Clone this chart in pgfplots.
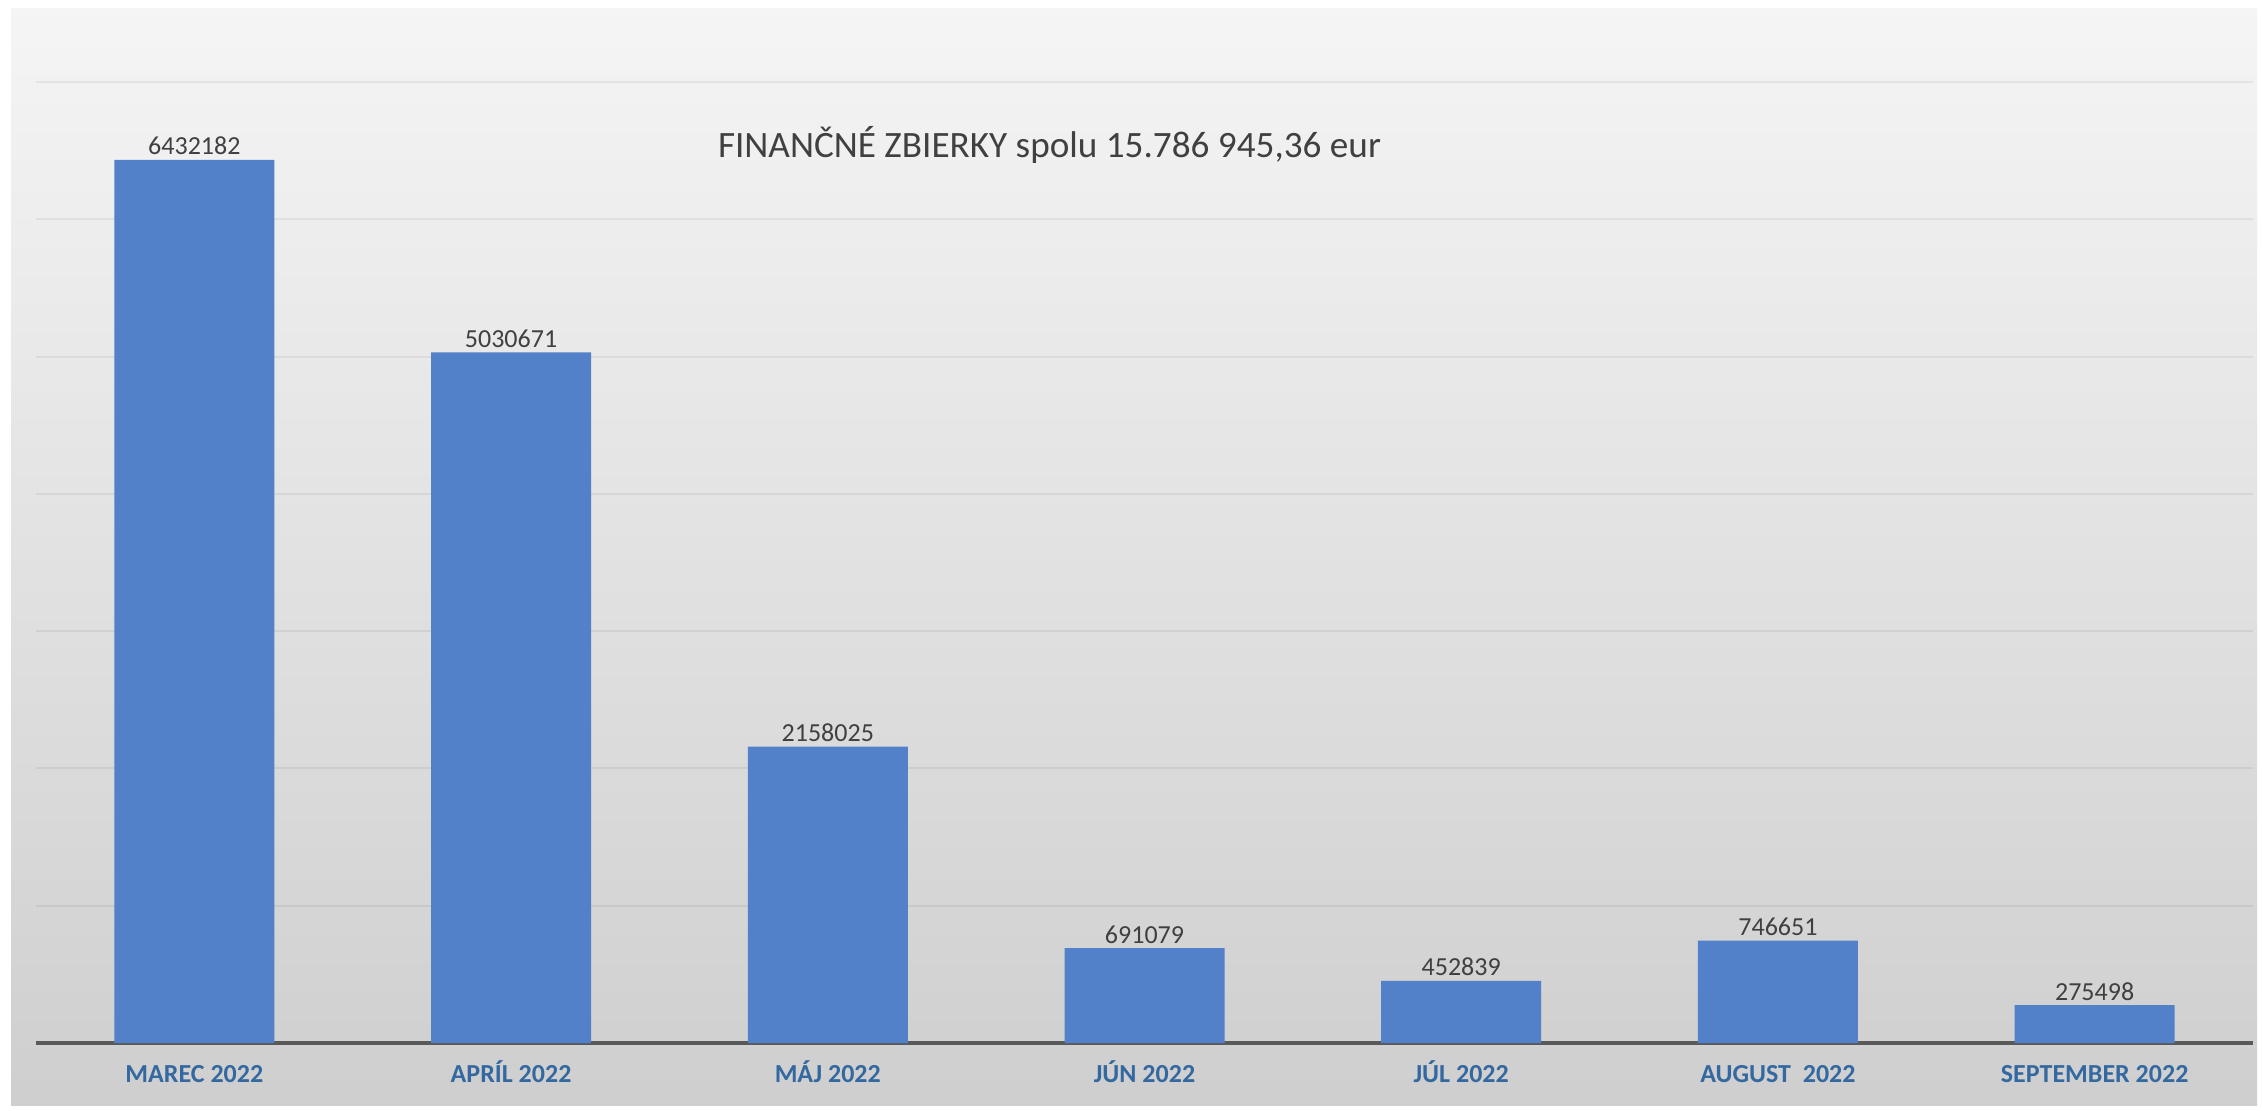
\documentclass[border=0pt]{standalone}
\usepackage{pgfplots}
\pgfplotsset{compat=1.18}
\usepackage{pgfplotstable}
\usepackage{fontspec}
\setmainfont{Carlito}

\definecolor{barblue}{RGB}{83,129,201}
\definecolor{ticklab}{RGB}{52,104,160}
\definecolor{txtgray}{RGB}{64,64,64}

\pgfplotstableread{
x y lab
0 6432182 6432182
1 5030671 5030671
2 2158025 2158025
3 691079 691079
4 452839 452839
5 746651 746651
6 275498 275498
}\zbierky

\begin{document}
\begin{tikzpicture}[x=0.5pt,y=0.5pt]
  \useasboundingbox (0,0) rectangle (2262,1110);
  \fill[white] (0,0) rectangle (2262,1110);
  \shade[top color=black!4, bottom color=black!19] (11,5) rectangle (2257,1101);
  \begin{axis}[
    at={(18pt,33.5pt)}, anchor=south west,
    scale only axis,
    width=1108.5pt, height=480.5pt,
    xmin=-0.5, xmax=6.5,
    ymin=0, ymax=7000000,
    axis line style={draw=none},
    major tick length=0,
    xtick=data,
    xticklabels={MAREC 2022, APRÍL 2022, MÁJ 2022, JÚN 2022, JÚL 2022, AUGUST\ \ 2022, SEPTEMBER 2022},
    xticklabel style={anchor=base, yshift=-19.5pt, font=\fontsize{13}{15}\selectfont\bfseries, text=ticklab},
    ytick={1000000,2000000,3000000,4000000,5000000,6000000,7000000},
    yticklabel={\relax},
    yticklabel style={inner sep=0pt},
    scaled y ticks=false,
    ymajorgrids,
    grid style={black, opacity=0.06, line width=1pt},
    extra y ticks={0},
    extra y tick labels={},
    extra y tick style={grid style={black!65, opacity=1, line width=1.8pt}},
    ybar, bar width=80pt,
    point meta=explicit symbolic,
    nodes near coords={\pgfplotspointmeta},
    nodes near coords style={anchor=base, inner sep=0pt, yshift=2.5pt, font=\fontsize{13}{15}\selectfont, text=txtgray},
  ]
    \addplot[fill=barblue, draw=none] table[x=x, y=y, meta=lab] {\zbierky};
    \node[font=\fontsize{18.6}{21}\selectfont, text=txtgray] at (axis cs:2.70,6540000) {FINANČNÉ ZBIERKY spolu 15.786 945,36 eur};
  \end{axis}
\end{tikzpicture}
\end{document}
